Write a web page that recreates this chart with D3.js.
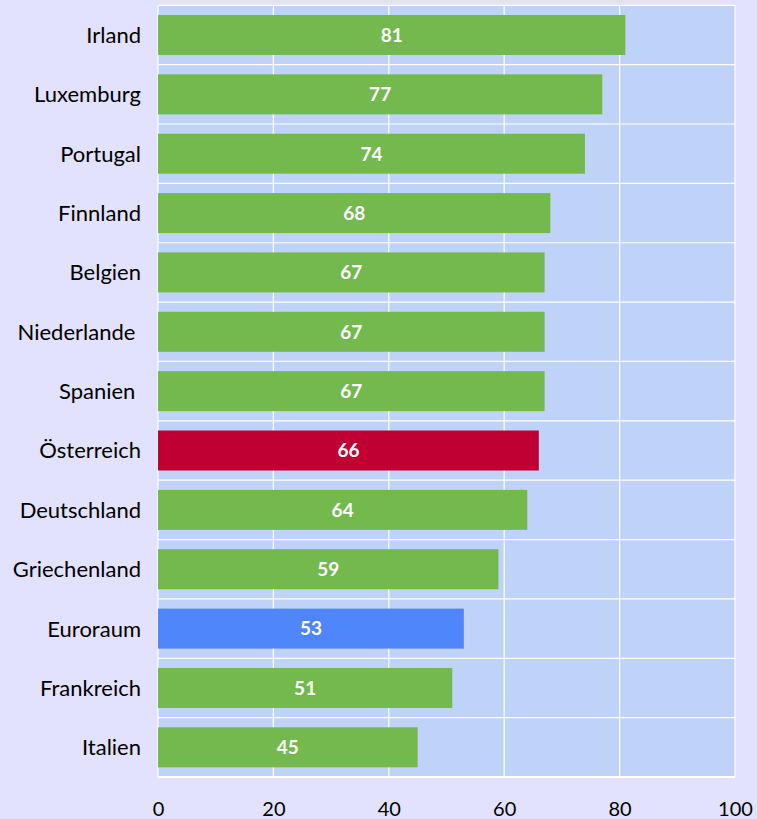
<!DOCTYPE html>
<html><head><meta charset="utf-8">
<script src="https://cdn.jsdelivr.net/npm/d3@7"></script>
<style>
html,body{margin:0;padding:0;background:#e2e2fe;}
svg{display:block;font-family:Lato, "Open Sans", sans-serif;}
</style></head>
<body><svg id="c" width="757" height="819"></svg>
<script>
const categories = ["Irland","Luxemburg","Portugal","Finnland","Belgien","Niederlande ","Spanien ","Österreich","Deutschland","Griechenland","Euroraum","Frankreich","Italien"];
const values = [81,77,74,68,67,67,67,66,64,59,53,51,45];
const barColors = ["#73b94e","#73b94e","#73b94e","#73b94e","#73b94e","#73b94e","#73b94e","#c00032","#73b94e","#73b94e","#4f86fb","#73b94e","#73b94e"];
const tickValues = [0,20,40,60,80,100];

(function(){
const svg = d3.select("#c");
const pL = 158, pR = 735, pT = 5.3, pB = 777;
const x = d3.scaleLinear().domain([0,100]).range([pL,pR]);
const y = d3.scaleBand().domain(categories).range([pT,pB]).paddingInner(0.326).paddingOuter(0.163);

svg.append("rect").attr("x",pL).attr("y",pT).attr("width",pR-pL).attr("height",pB-pT).attr("fill","#bfd3f8");

const bandEdges = d3.range(categories.length+1).map(i => pT + i*(pB-pT)/categories.length);
svg.append("g").selectAll("line").data(bandEdges).join("line")
  .attr("x1",pL).attr("x2",pR).attr("y1",d=>d).attr("y2",d=>d)
  .attr("stroke","#fff").attr("stroke-width",1.2);
svg.append("g").selectAll("line").data(tickValues).join("line")
  .attr("x1",d=>x(d)).attr("x2",d=>x(d)).attr("y1",pT).attr("y2",pB)
  .attr("stroke","#fff").attr("stroke-width",1.2);

svg.append("g").selectAll("rect").data(values).join("rect")
  .attr("x",x(0)).attr("y",(d,i)=>y(categories[i]))
  .attr("width",d=>x(d)-x(0)).attr("height",y.bandwidth())
  .attr("fill",(d,i)=>barColors[i]);

svg.append("g").selectAll("text").data(values).join("text")
  .attr("x",d=>(x(d)+x(0))/2).attr("y",(d,i)=>y(categories[i])+y.bandwidth()/2)
  .attr("dy","0.36em").attr("text-anchor","middle")
  .attr("fill","#fff").attr("font-weight","bold").attr("font-size",19)
  .text(d=>d);

svg.append("line").attr("x1",pL).attr("x2",pR).attr("y1",pB).attr("y2",pB).attr("stroke","#fff").attr("stroke-width",2);

svg.append("g").selectAll("text").data(categories).join("text")
  .attr("x",141).attr("y",d=>y(d)+y.bandwidth()/2).attr("dy","0.36em")
  .attr("text-anchor","end").attr("font-size",22).attr("fill","#000")
  .style("white-space","pre").text(d=>d);

const ax = svg.append("g").attr("transform",`translate(0,${pB})`)
  .call(d3.axisBottom(x).tickValues(tickValues).tickSize(0).tickPadding(25));
ax.select(".domain").remove();
ax.selectAll("text").attr("font-size",20).attr("fill","#000").attr("font-family","Lato, sans-serif");
})();
</script></body></html>
